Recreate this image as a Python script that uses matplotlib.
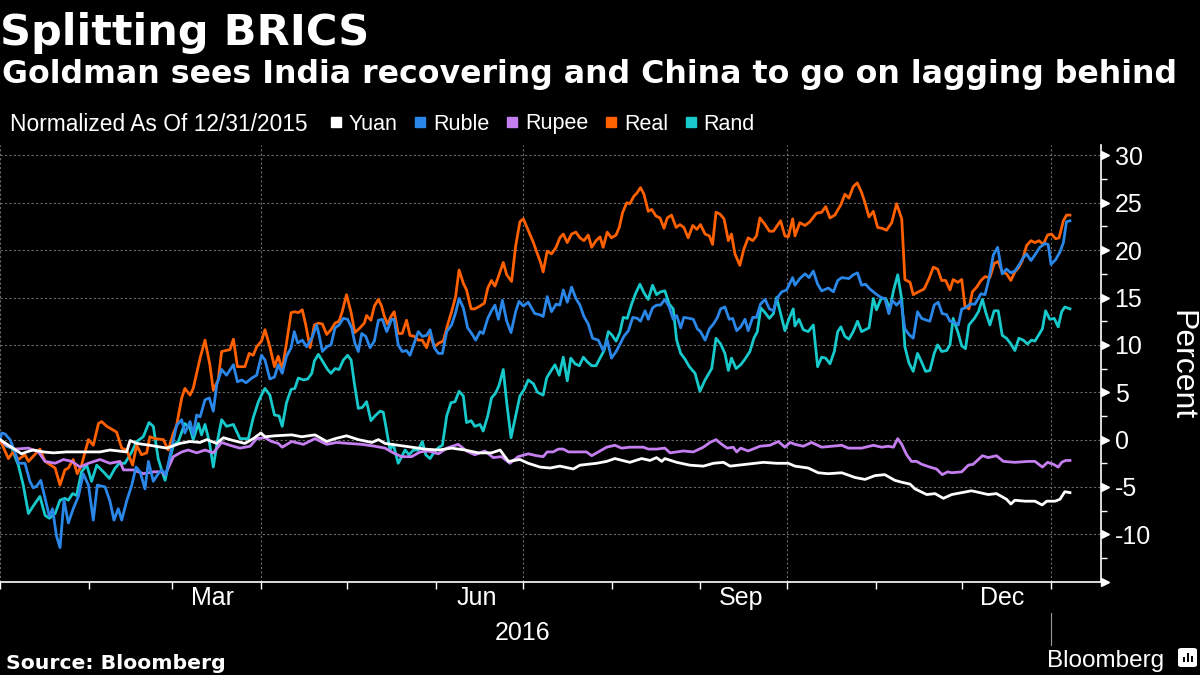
import matplotlib
matplotlib.use("Agg")
import matplotlib.pyplot as plt
import matplotlib.dates as mdates
import numpy as np
import pandas as pd
from matplotlib.lines import Line2D
from matplotlib.patches import FancyBboxPatch, Rectangle
from matplotlib.ticker import MultipleLocator, NullFormatter
from matplotlib.transforms import blended_transform_factory, ScaledTranslation

plt.rcParams['axes.unicode_minus'] = False

# ---------------- data (percent change, normalized as of 12/31/2015) ----------------
BASE_DATE = "2016-01-01"          # x values below are days after this date
series_names = ["Yuan", "Ruble", "Rupee", "Real", "Rand"]
series_colors = ["#ffffff", "#2a87e8", "#c47ef0", "#ff6000", "#18c9cc"]

yuan_days = [0, 3.5, 7.5, 9.3, 11.6, 15.1, 18.6, 23.2, 29.0, 34.8, 38.3, 44.1, 45.3, 47.6, 52.2, 58.1,
             62.7, 66.2, 69.7, 72.0, 75.5, 77.8, 81.3, 85.3, 88.2, 90.9,
             92.3, 95.8, 101.6, 105.1, 109.7, 113.8, 116.7, 120.7, 124.8, 129.5, 131.8, 134.1, 138.7,
             143.4, 148.0, 152.7, 157.3, 162.0, 166.6, 171.2, 174.2, 177.1, 181.1, 184.0,
             188.1, 191.6, 195.0, 199.7, 202.0, 207.8, 211.3, 214.2, 219.4, 223.5, 226.4, 228.7, 230.5,
             231.6, 235.7, 240.3, 245.0, 248.5, 252.0, 254.3, 260.1, 265.9, 270.5, 274.6,
             276.9, 281.5, 285.0, 288.5, 293.2, 297.8, 301.3, 304.8, 308.2, 311.7, 314.1, 317.0, 318.7,
             322.8, 325.7, 328.6, 331.5, 335.0, 338.4, 341.3, 344.2, 347.1, 350.6, 352.1, 353.5, 357.0,
             360.5, 363.0, 364.6, 367.5, 369.2, 370.9, 372.7]
yuan_vals = [0.0, -0.7, -1.5, -1.3, -1.1, -1.3, -1.4, -1.3, -1.3, -1.3, -1.1, -1.3, -0.1, -0.4, -0.6, -0.9,
             -0.4, -0.2, -0.3, 0.0, -0.4, 0.2, -0.1, -0.4, 0.1, 0.7,
             0.3, 0.4, 0.5, 0.3, 0.5, -0.2, 0.1, 0.4, 0.0, -0.3, 0.0, -0.4, -0.6,
             -0.8, -1.0, -1.1, -0.9, -1.1, -1.4, -1.4, -1.1, -2.3, -2.1, -2.5,
             -2.9, -3.0, -2.8, -3.1, -2.7, -2.5, -2.3, -2.0, -2.4, -2.0, -2.2, -1.9, -2.3,
             -2.0, -2.4, -2.7, -2.8, -2.5, -2.4, -2.8, -2.6, -2.4, -2.5, -2.5,
             -2.8, -3.0, -3.5, -3.6, -3.5, -4.0, -4.2, -3.8, -3.7, -4.3, -4.5, -4.7, -5.2,
             -5.8, -5.7, -6.2, -5.8, -5.6, -5.4, -5.6, -5.8, -5.7, -6.3, -6.8, -6.4, -6.5,
             -6.5, -6.9, -6.5, -6.5, -6.3, -5.5, -5.6]

ruble_days = [0, 0.6, 1.7, 3.5, 5.2, 6.4, 8.7, 10.4, 11.6, 12.8, 14.2, 15.7, 17.2, 18.3, 19.7, 20.9, 22.3,
              23.8, 25.5, 27.3, 29.0, 30.8, 32.5, 33.9, 36.6, 38.3, 39.7, 41.2, 42.4, 44.1, 45.9, 47.4,
              48.8, 50.5, 51.7, 53.4, 55.1, 56.3, 57.8, 59.8, 61.5, 63.3, 64.4, 66.2, 67.3, 68.5, 69.7,
              71.4, 72.9, 74.3, 75.5, 77.2, 78.9, 81.3, 82.7, 84.2, 85.7, 87.7, 89.4, 91.1,
              92.3, 94.0, 95.6, 96.9, 98.3, 99.8, 101.4, 102.5, 103.7, 105.3, 106.8, 108.6, 110.3, 111.1,
              112.3, 113.8, 115.3, 116.7, 118.1, 119.6, 121.1, 122.5, 123.6, 124.8, 126.0, 127.4, 128.9,
              130.4, 131.8, 133.2, 134.7, 136.4, 137.3, 138.7, 140.1, 141.6, 142.8, 144.3, 145.7, 147.1,
              148.6, 149.8, 151.3, 152.7, 154.1, 155.6, 157.3, 158.7, 159.9, 161.4, 162.9, 164.3, 165.7,
              167.2, 168.3, 169.9, 171.2, 172.4, 173.6, 175.0, 176.5, 178.0, 179.6, 180.8, 182.3, 184.0,
              186.3, 187.9, 189.2, 190.6, 192.1, 193.7, 195.0, 196.2, 197.6, 199.1, 200.6, 202.0, 203.4,
              204.9, 206.4, 208.4, 210.1, 211.5, 213.0, 214.6, 216.0, 217.3, 218.9, 220.4, 222.0, 223.1,
              224.7, 225.8, 227.3, 228.7, 230.1, 231.6, 233.1, 234.5, 235.7, 237.1, 238.2, 240.1, 241.5,
              242.9, 244.0, 245.6, 247.1, 248.5, 249.9, 251.0, 252.5, 254.0, 255.2, 256.6, 258.0, 259.5,
              260.6, 262.2, 263.5, 264.9, 266.5, 268.0, 269.4, 270.8, 272.3, 274.0, 276.1,
              276.9, 278.6, 280.4, 281.8, 283.3, 284.8, 286.2, 288.5, 290.3, 291.8, 293.2, 295.7, 297.2,
              298.7, 300.1, 301.5, 303.0, 305.0, 306.9, 308.2, 309.6, 310.8, 312.3, 313.8, 315.2, 316.6,
              318.1, 319.6, 321.0, 322.8, 323.9, 325.4, 326.8, 328.2, 329.7, 330.9, 332.4, 333.8, 335.0,
              336.3, 337.9, 339.6, 341.7, 343.1, 344.5, 346.0, 347.5, 349.1, 350.6, 352.1, 353.5, 354.9,
              356.4, 357.6, 359.1, 360.5, 362.2, 364.0, 365.1, 366.1, 367.7, 369.2, 370.4, 371.5, 372.7]
ruble_vals = [0.0, 0.7, 0.6, 0.0, -1.3, -2.5, -2.5, -4.4, -5.1, -4.9, -4.3, -6.2, -8.1, -7.3, -10.2, -11.4, -6.4,
              -8.8, -7.3, -6.0, -3.6, -4.8, -8.5, -4.8, -5.0, -6.5, -8.5, -7.3, -8.5, -6.5, -4.8, -2.9,
              -3.4, -5.2, -2.3, -4.4, -3.6, -3.2, -3.7, -0.9, 1.5, 2.1, 0.7, 1.9, 0.5, 2.6, 2.4,
              4.2, 4.4, 3.0, 5.8, 7.4, 6.8, 7.9, 6.1, 6.3, 6.0, 6.5, 6.8, 8.9,
              8.4, 6.4, 6.6, 7.9, 7.0, 8.8, 9.7, 11.4, 10.2, 10.5, 9.8, 10.7, 12.1, 11.1,
              9.3, 9.8, 10.0, 11.8, 12.1, 12.8, 12.7, 11.8, 10.2, 9.3, 11.2, 10.9, 9.7,
              10.4, 12.6, 12.7, 11.4, 12.7, 12.7, 10.0, 9.3, 9.4, 8.9, 10.2, 11.4, 10.9,
              11.0, 11.6, 9.7, 9.1, 9.1, 11.4, 12.1, 13.4, 14.9, 13.9, 11.8, 11.2, 10.5,
              11.4, 11.2, 12.8, 13.6, 14.2, 12.7, 14.7, 12.5, 11.3, 13.5, 14.6, 14.1, 14.5,
              13.3, 13.2, 13.0, 15.1, 13.5, 14.3, 14.2, 15.8, 14.5, 16.1, 14.9, 14.2, 13.0,
              12.2, 10.7, 10.5, 9.4, 10.5, 8.6, 9.3, 10.1, 10.9, 11.5, 12.9, 12.8, 12.5,
              13.6, 12.7, 13.9, 14.2, 14.2, 14.8, 14.0, 12.7, 13.1, 11.8, 12.9, 12.8, 12.7,
              11.7, 11.4, 10.5, 11.7, 12.2, 12.9, 13.8, 14.0, 12.7, 12.8, 11.5, 11.9, 12.7,
              11.5, 12.9, 12.9, 14.3, 14.8, 13.8, 13.6, 15.0, 15.6, 15.8, 17.1,
              16.3, 17.0, 17.5, 17.1, 17.8, 16.4, 15.7, 16.0, 15.6, 16.8, 17.1, 17.0, 17.4,
              17.6, 16.3, 16.4, 15.9, 15.4, 15.0, 14.9, 13.3, 14.7, 14.2, 14.7, 11.7, 11.1,
              10.7, 13.5, 12.8, 12.6, 12.5, 14.2, 14.5, 13.3, 13.2, 12.5, 12.4, 12.1, 13.8,
              13.9, 14.3, 14.3, 15.4, 15.3, 17.0, 19.5, 20.3, 17.5, 18.0, 17.6, 17.8, 18.4,
              19.2, 19.6, 18.9, 19.5, 20.3, 20.7, 20.6, 18.5, 19.0, 19.8, 20.8, 23.0, 23.1]

rupee_days = [0, 2.3, 5.2, 9.9, 13.4, 15.7, 19.2, 22.1, 25.0, 27.9, 30.8, 34.8, 38.3, 41.8, 43.0, 46.4,
              49.9, 53.4, 56.3, 57.5, 60.4, 63.3, 65.6, 68.5, 71.4, 74.3, 77.2, 80.1, 83.6, 87.1, 89.4,
              92.3, 94.6, 96.9, 98.3, 101.6, 105.7, 109.7, 113.8, 117.3, 121.3, 126.0, 130.6, 134.1,
              137.0, 139.9, 143.4, 146.3, 149.2, 152.7, 155.6, 159.6, 162.5, 165.4, 168.9, 171.8, 174.7,
              177.6, 180.5, 184.0,
              186.9, 189.2, 190.6, 192.7, 194.5, 196.2, 198.0, 200.9, 204.3, 206.1, 209.0, 211.3, 214.2,
              216.5, 219.4, 224.1, 225.8, 228.7, 231.6, 233.4, 238.0, 241.5, 245.0, 247.3, 249.4, 251.4,
              253.3, 255.4, 256.6, 258.0, 260.6, 264.7, 268.2, 271.1, 273.4, 275.2,
              276.9, 279.8, 282.7, 286.2, 289.7, 293.2, 295.5, 300.1, 304.2, 307.1, 309.4, 311.2, 312.7,
              314.1, 315.8, 317.5, 319.3, 321.0, 323.9, 326.2, 328.2, 330.1, 331.5, 335.0, 337.3, 339.0,
              342.2, 344.2, 347.1, 349.5, 353.5, 358.2, 360.5, 363.1, 364.9, 366.9, 368.6, 369.8, 371.2,
              372.7]
rupee_vals = [0.0, -0.6, -1.0, -0.9, -1.3, -2.3, -2.5, -2.1, -2.3, -2.9, -2.5, -2.1, -2.5, -2.3, -3.2, -3.2,
              -3.6, -3.4, -3.4, -3.7, -1.8, -1.3, -1.1, -1.4, -1.1, -1.4, -0.3, -0.6, -0.9, -0.7, 0.1,
              0.2, -0.2, -0.4, -0.8, -0.2, -0.5, 0.1, -0.5, -0.3, -0.4, -0.5, -0.7, -0.9,
              -1.4, -1.8, -1.8, -1.3, -1.2, -1.5, -0.9, -0.5, -1.2, -1.6, -1.2, -1.9, -1.8,
              -2.5, -1.8, -1.5,
              -1.7, -1.8, -1.3, -1.3, -1.0, -1.0, -1.3, -1.3, -1.3, -1.7, -1.2, -0.8, -0.6,
              -0.9, -0.8, -0.8, -1.0, -1.0, -0.9, -1.4, -1.2, -1.3, -0.8, -0.3, 0.0, -0.5,
              -0.9, -0.8, -1.3, -0.9, -1.2, -0.7, -0.6, -0.2, -0.8, -0.3,
              -0.5, -0.7, -0.3, -0.8, -0.7, -0.6, -0.9, -0.9, -0.6, -0.8, -0.7, -0.8, 0.1,
              -0.5, -1.6, -2.3, -2.3, -2.6, -2.9, -3.1, -3.7, -3.4, -3.5, -3.4, -2.7, -2.6,
              -1.7, -1.9, -1.7, -2.3, -2.4, -2.3, -2.3, -2.9, -2.4, -2.6, -2.9, -2.4, -2.2,
              -2.2]

real_days = [0, 2.9, 4.6, 6.4, 8.7, 9.9, 13.9, 15.7, 19.2, 20.9, 22.6, 23.8, 25.5, 26.9, 28.4, 30.8, 32.5,
             34.3, 35.4, 37.2, 40.6, 42.4, 44.1, 46.2, 47.6, 49.3, 51.1, 52.2, 54.0, 56.9, 58.6, 60.4,
             61.5, 63.3, 64.4, 66.2, 67.3, 69.7, 71.4, 73.1, 74.3, 76.0, 77.2, 80.1, 81.3, 82.7, 85.3,
             86.8, 88.2, 89.4, 91.1,
             92.3, 94.0, 95.6, 96.9, 98.3, 99.8, 101.4, 102.7, 103.9, 105.3, 106.5, 108.0, 109.5, 110.9,
             112.3, 113.8, 115.3, 116.7, 118.1, 119.2, 120.7, 122.3, 123.6, 125.4, 126.9, 127.7, 129.2,
             130.4, 131.8, 132.9, 133.9, 135.0, 136.2, 137.3, 138.7, 140.1, 141.6, 142.8, 144.3, 145.7,
             147.1, 148.6, 149.8, 151.3, 152.9, 154.4, 155.9, 157.3, 158.7, 159.9, 161.4, 162.5, 164.1,
             165.4, 167.2, 168.7, 169.9, 171.2, 172.4, 173.6, 175.3, 176.5, 178.2, 179.6, 181.1, 182.3,
             184.0,
             185.8, 187.2, 188.3, 189.2, 190.6, 192.1, 193.7, 195.0, 196.2, 197.6, 199.1, 200.6, 202.0,
             203.4, 204.9, 206.1, 207.6, 209.0, 210.1, 211.5, 213.0, 214.6, 215.7, 216.9, 218.3, 219.4,
             220.8, 221.8, 223.1, 224.3, 225.8, 227.0, 228.5, 229.9, 231.3, 232.4, 233.9, 235.5, 236.8,
             238.2, 239.7, 241.3, 242.7, 244.0, 245.6, 247.1, 248.2, 249.4, 250.8, 252.2, 253.7, 254.8,
             256.0, 257.7, 259.1, 260.6, 262.2, 263.5, 264.7, 266.5, 268.0, 269.4, 271.9, 273.4, 274.6,
             276.1,
             276.9, 278.6, 280.4, 282.1, 284.4, 286.2, 287.6, 289.1, 290.8, 292.9, 294.3, 295.7, 297.2,
             298.6, 300.1, 301.3, 302.7, 304.2, 305.7, 307.3, 308.8, 310.6, 312.3, 314.1, 315.2, 317.0,
             318.1, 319.9, 321.9, 323.6, 325.1, 326.6, 328.0, 329.4, 330.9, 332.0, 333.6, 335.0, 336.1,
             337.5, 338.7, 340.2, 341.7, 343.1, 344.8, 346.3, 347.7, 349.1, 350.6, 352.1, 353.5, 354.9,
             356.1, 357.6, 359.1, 360.5, 361.9, 363.4, 364.9, 366.3, 367.7, 368.9, 370.4, 371.5, 372.7]
real_vals = [0.0, -2.0, -1.3, -2.1, -1.6, -2.3, -1.0, -2.3, -3.0, -4.8, -3.2, -3.0, -2.1, -3.6, -2.7, 0.0, -0.6,
             1.7, 1.9, 1.4, 0.8, -0.9, -1.1, -2.7, -0.6, -1.6, -1.4, 0.3, 0.1, 0.0, -1.1, 0.7,
             1.5, 4.4, 5.4, 4.7, 5.4, 8.6, 10.5, 7.9, 5.2, 6.3, 9.3, 9.5, 10.6, 7.7, 7.7,
             9.1, 8.9, 9.8, 10.4,
             11.6, 9.8, 7.7, 8.8, 7.4, 10.2, 13.4, 13.5, 13.4, 13.7, 12.1, 9.7, 12.1, 12.3,
             12.2, 11.1, 11.6, 12.3, 12.5, 13.5, 15.3, 13.4, 11.3, 11.8, 12.3, 13.1, 12.6,
             14.1, 14.8, 14.1, 13.0, 12.2, 13.0, 13.5, 11.2, 11.2, 12.6, 11.0, 10.9, 10.5,
             10.5, 9.7, 11.0, 9.8, 10.2, 10.4, 12.1, 13.5, 15.1, 17.9, 16.5, 15.8, 13.8,
             13.8, 14.1, 14.4, 16.0, 16.8, 16.2, 17.2, 18.7, 17.4, 16.7, 20.4, 23.0, 23.3,
             22.1,
             20.8, 19.6, 18.7, 17.7, 19.9, 19.6, 20.3, 21.3, 21.7, 20.8, 21.7, 21.9, 21.3,
             21.0, 21.6, 20.3, 21.0, 21.4, 20.3, 21.9, 21.3, 21.6, 22.4, 24.0, 25.0, 24.9,
             25.7, 26.0, 26.6, 25.9, 24.1, 24.3, 23.6, 23.4, 22.3, 23.4, 23.7, 22.4, 22.7,
             22.4, 21.3, 22.6, 22.2, 22.7, 21.7, 21.5, 20.6, 24.0, 23.8, 23.3, 21.0, 21.7,
             19.6, 18.4, 20.1, 21.3, 21.0, 21.5, 23.4, 22.7, 22.0, 22.0, 23.1, 21.5, 21.4,
             23.3,
             21.5, 22.9, 22.6, 23.0, 23.9, 24.0, 24.6, 23.4, 23.7, 24.8, 25.9, 25.5, 26.7,
             27.1, 26.1, 25.0, 23.5, 24.1, 22.4, 22.3, 22.1, 22.9, 24.9, 23.3, 16.9, 16.6,
             15.3, 15.6, 15.9, 17.0, 18.2, 18.0, 16.8, 16.8, 15.8, 16.9, 16.6, 16.9, 14.1,
             13.8, 15.6, 16.1, 16.8, 17.2, 17.1, 18.6, 18.8, 17.7, 17.5, 16.8, 17.7, 18.2,
             18.9, 20.5, 21.0, 20.8, 21.0, 20.6, 21.6, 21.7, 21.2, 21.3, 23.1, 23.7, 23.7]

rand_days = [0, 2.3, 4.1, 6.4, 8.1, 9.9, 11.6, 13.9, 15.7, 17.2, 19.2, 20.9, 22.6, 23.8, 25.3, 26.7, 28.4,
             30.2, 31.9, 33.7, 36.0, 38.1, 40.1, 41.6, 43.5, 45.9, 47.6, 49.9, 51.9, 53.4, 55.1, 56.3,
             57.5, 58.6, 60.4, 62.1, 64.4, 66.2, 67.3, 69.1, 70.2, 71.4, 72.9, 74.3, 75.7, 77.2, 78.9,
             81.3, 83.6, 86.5, 88.2, 90.0, 91.7,
             92.3, 94.0, 95.6, 97.2, 98.3, 99.8, 101.4, 102.7, 103.9, 105.7, 107.2, 108.6, 109.5, 110.9,
             112.3, 114.1, 115.3, 116.7, 118.1, 119.6, 121.1, 122.3, 123.4, 124.8, 126.2, 127.7, 129.2,
             130.6, 132.4, 133.5, 134.7, 135.8, 137.0, 138.7, 139.9, 141.1, 142.5, 144.0, 145.7, 147.1,
             148.3, 149.8, 151.5, 152.9, 154.1, 155.6, 157.1, 158.5, 159.9, 161.4, 162.5, 164.1, 165.4,
             167.2, 168.3, 169.9, 171.2, 172.6, 173.8, 175.3, 176.5, 178.0, 179.6, 181.1, 182.6, 184.0,
             185.8, 187.2, 189.2, 190.4, 191.8, 193.3, 194.8, 196.2, 197.6, 198.8, 200.3, 201.8, 203.2,
             204.6, 206.1, 207.6, 209.0, 210.4, 211.9, 213.0, 214.6, 215.9, 217.1, 218.5, 220.0, 221.5,
             222.9, 224.3, 225.8, 227.3, 228.7, 230.1, 231.6, 233.1, 234.5, 235.7, 237.1, 238.6, 240.1,
             242.1, 243.8, 245.6, 247.9, 249.4, 251.0, 252.5, 253.7, 254.8, 256.4, 258.0, 259.5, 261.2,
             262.6, 263.8, 265.0, 266.5, 268.0, 269.4, 270.5, 271.9, 273.4, 274.9, 276.3,
             276.9, 278.3, 279.8, 281.5, 283.3, 284.8, 286.2, 287.6, 289.1, 290.6, 291.8, 292.9, 294.3,
             295.7, 297.2, 298.7, 300.1, 302.7, 304.2, 305.3, 306.9, 308.5, 310.0, 311.2, 312.7, 314.1,
             315.2, 316.6, 318.1, 319.6, 321.0, 322.4, 323.9, 325.4, 326.6, 328.0, 329.7, 330.9, 332.0,
             333.6, 335.0, 336.3, 337.5, 339.4, 340.8, 342.2, 343.3, 344.8, 346.3, 347.7, 349.1, 350.6,
             352.1, 353.5, 354.9, 356.4, 357.9, 359.3, 360.5, 361.9, 363.1, 364.2, 365.7, 367.2, 368.6,
             369.8, 370.9, 372.7]
rand_vals = [0.0, -0.7, -0.9, -2.7, -4.8, -7.8, -7.0, -6.0, -8.0, -8.3, -7.8, -6.4, -6.2, -6.4, -5.7, -5.9, -3.4,
             -2.7, -4.4, -2.7, -3.4, -4.1, -3.0, -2.5, -2.5, -1.3, -0.2, 0.3, 1.8, 1.4, -2.0, -3.2,
             -4.3, -2.7, -0.6, -0.2, 1.7, 1.2, 0.0, 1.7, 0.5, 1.6, -0.2, -2.9, -0.2, 2.1, 1.4,
             1.6, 0.1, 0.1, 2.3, 4.0, 5.1,
             5.4, 4.7, 2.6, 2.5, 1.4, 3.9, 5.3, 5.4, 6.5, 6.3, 6.4, 7.0, 8.3, 9.0,
             8.3, 7.4, 7.0, 7.5, 7.4, 8.4, 8.9, 8.4, 6.0, 3.3, 3.4, 4.0, 2.0,
             2.5, 3.0, 2.9, 0.9, -1.1, -0.5, -2.5, -1.8, -1.1, -1.6, -1.1, -1.1, -0.2,
             -1.6, -2.0, -1.2, -0.8, -0.6, 2.5, 3.9, 4.0, 5.1, 4.6, 1.8, 2.0, 1.4,
             1.6, 0.9, 2.5, 4.4, 4.9, 5.7, 7.4, 3.9, 0.2, 2.5, 4.6, 5.3, 6.3,
             5.9, 5.0, 4.7, 6.5, 7.2, 7.9, 6.8, 8.7, 6.2, 8.6, 8.0, 7.8, 8.7,
             8.2, 7.8, 7.8, 8.6, 9.4, 11.4, 11.1, 10.4, 11.3, 12.9, 12.8, 14.3, 15.5,
             16.4, 15.5, 14.8, 16.3, 15.3, 15.6, 15.7, 14.3, 13.8, 10.5, 9.1, 8.5, 7.7,
             7.0, 5.1, 6.3, 7.5, 10.7, 10.1, 9.1, 7.3, 8.6, 7.5, 7.9, 8.5, 9.3,
             10.7, 11.4, 13.9, 13.4, 12.8, 13.3, 15.0, 13.3, 11.5, 12.8, 13.8,
             12.0, 12.7, 11.6, 11.4, 12.1, 7.7, 8.7, 8.6, 8.0, 9.3, 11.4, 11.9, 10.9,
             10.6, 11.4, 12.5, 11.4, 11.8, 14.9, 13.7, 14.9, 14.9, 13.8, 15.7, 17.4, 14.8,
             9.8, 8.1, 7.2, 9.1, 8.2, 7.2, 7.3, 9.1, 10.0, 9.3, 9.4, 10.0, 12.8,
             11.4, 9.9, 9.6, 12.1, 12.8, 13.5, 14.8, 13.5, 12.1, 13.6, 13.6, 11.0, 10.7,
             10.1, 9.4, 10.7, 10.5, 10.1, 10.5, 10.4, 11.1, 11.7, 13.6, 12.7, 12.8, 11.9,
             13.5, 14.0, 13.8]

series_days = [yuan_days, ruble_days, rupee_days, real_days, rand_days]
series_vals = [yuan_vals, ruble_vals, rupee_vals, real_vals, rand_vals]

y_ticks = [-15, -10, -5, 0, 5, 10, 15, 20, 25, 30]
quarter_starts = ["2016-01-01", "2016-04-01", "2016-07-01", "2016-10-01", "2017-01-01"]

# ---------------- figure ----------------
LABEL_FONT = ["Liberation Sans", "DejaVu Sans"]
TITLE_FONT = ["DejaVu Sans"]
GRID_COL = "#6a6a6a"

fig = plt.figure(figsize=(12, 6.75), dpi=100, facecolor="black")
W, H = 1200.0, 675.0
ax = fig.add_axes([0.0, (H - 581.7) / H, 1100.7 / W, (581.7 - 145.0) / H])
ax.set_facecolor("black")

base = pd.Timestamp(BASE_DATE)
for name, col, d, v in list(zip(series_names, series_colors, series_days, series_vals))[::-1]:
    dates = base + pd.to_timedelta(np.asarray(d, dtype=float), unit="D")
    ax.plot(dates, v, color=col, lw=2.0, solid_joinstyle="round", zorder=3, label=name)

ax.set_xlim(base, base + pd.Timedelta(days=383.4))
ax.set_ylim(-15, 31.1)

# spines
for s in ("left", "top"):
    ax.spines[s].set_visible(False)
for s in ("right", "bottom"):
    ax.spines[s].set_color("white")
    ax.spines[s].set_linewidth(1.2)

# x axis
ax.xaxis.set_major_locator(mdates.MonthLocator())
ax.xaxis.set_major_formatter(NullFormatter())
ax.xaxis.set_minor_locator(mdates.MonthLocator(bymonth=[3, 6, 9, 12], bymonthday=15))
ax.xaxis.set_minor_formatter(mdates.DateFormatter("%b"))
ax.tick_params(axis="x", which="major", length=5, width=1, color="white", direction="out")
ax.tick_params(axis="x", which="minor", length=0, pad=3, labelsize=18, labelcolor="white")
for lbl in ax.xaxis.get_minorticklabels():
    lbl.set_family(LABEL_FONT)

# y axis on the right
ax.yaxis.tick_right()
ax.set_yticks(y_ticks)
ax.set_yticklabels(["" if t == -15 else str(t) for t in y_ticks], family=LABEL_FONT)
ax.yaxis.set_minor_locator(MultipleLocator(2.5))
ax.tick_params(axis="y", which="major", length=0, pad=10, labelsize=18, labelcolor="white")
ax.tick_params(axis="y", which="minor", length=4, width=1, color="white", direction="out")
tri_tr = blended_transform_factory(ax.transAxes, ax.transData) + ScaledTranslation(3.2 / 72, 0, fig.dpi_scale_trans)
ax.plot([1.0] * len(y_ticks), y_ticks, ls="none", marker=">", ms=6.4, color="white",
        transform=tri_tr, clip_on=False, zorder=5)

# grid
ax.grid(axis="y", which="major", color=GRID_COL, ls=(0, (2, 2)), lw=0.8, zorder=0)
for q in quarter_starts:
    ax.axvline(pd.Timestamp(q), color=GRID_COL, ls=(0, (2, 2)), lw=0.8, zorder=0)

# year label and year divider
xf = blended_transform_factory(ax.transData, fig.transFigure)
ax.text(pd.Timestamp("2016-07-01"), 1 - 640 / H, "2016", transform=xf, ha="center", va="baseline",
        fontsize=18, color="white", family=LABEL_FONT)
ax.plot([pd.Timestamp("2017-01-01")] * 2, [1 - 613 / H, 1 - 645 / H], transform=xf,
        color="#9a9a9a", lw=0.8, clip_on=False)

fig.text(1181.7 / W, 1 - 365 / H, "Percent", rotation=270, ha="center", va="center",
         fontsize=23, color="white", family=LABEL_FONT)

# titles
fig.text(0.5 / W, 1 - 45 / H, "Splitting BRICS", ha="left", va="baseline", fontsize=31,
         fontweight="bold", color="white", family=TITLE_FONT)
fig.text(2 / W, 1 - 83.5 / H, "Goldman sees India recovering and China to go on lagging behind",
         ha="left", va="baseline", fontsize=22.8, fontweight="bold", color="white", family=TITLE_FONT)

# legend row
fig.text(10 / W, 1 - 130.7 / H, "Normalized As Of 12/31/2015", ha="left", va="baseline",
         fontsize=16.4, color="white", family=LABEL_FONT)
handles = [Line2D([], [], ls="none", marker="s", ms=6.5, color=c) for c in series_colors]
fig.legend(handles, series_names, loc="center left", bbox_to_anchor=(331 / W, 1 - 124 / H),
           ncol=5, frameon=False, handlelength=0.45, handletextpad=0.35, columnspacing=0.86,
           borderaxespad=0, borderpad=0, labelcolor="white",
           prop={"family": LABEL_FONT, "size": 15.5})

# footer
fig.text(6 / W, 1 - 669 / H, "Source: Bloomberg", ha="left", va="baseline", fontsize=14.7,
         fontweight="bold", color="white", family=TITLE_FONT)
fig.text(1047 / W, 1 - 666.7 / H, "Bloomberg", ha="left", va="baseline", fontsize=17.5,
         color="white", family=LABEL_FONT)
fig.patches.append(FancyBboxPatch((1178 / W, 1 - 667 / H), 19 / W, 19 / H,
                                  boxstyle="round,pad=0,rounding_size=0.003",
                                  transform=fig.transFigure, fc="white", ec="none"))
for bx, bh in [(1183, 5), (1187, 9), (1191, 6)]:
    fig.patches.append(Rectangle((bx / W, 1 - 662 / H), 2 / W, bh / H, transform=fig.transFigure,
                                 fc="black", ec="none"))

fig.savefig("out.png", dpi=100, facecolor="black")
